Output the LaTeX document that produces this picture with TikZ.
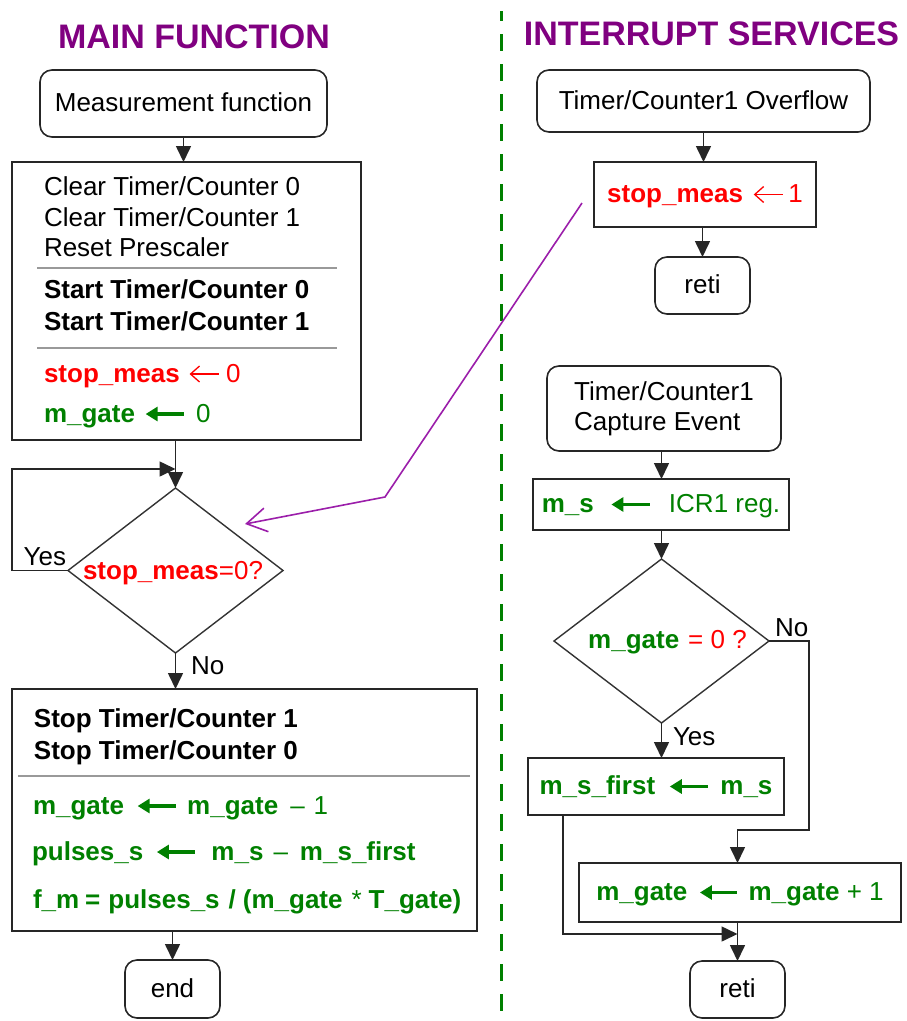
\documentclass[tikz,border=0pt]{standalone}
\usepackage{fontspec}
\setmainfont{Liberation Sans}
\usetikzlibrary{arrows.meta,shapes.geometric}
\definecolor{ogreen}{RGB}{0,128,0}
\definecolor{ored}{RGB}{255,0,0}
\definecolor{tpurple}{RGB}{128,0,128}
\definecolor{lpurple}{RGB}{155,30,170}
\newcommand{\nf}{\fontsize{26pt}{30pt}\selectfont}
\newcommand{\garr}[1][38pt]{\tikz[baseline=-8pt]\draw[ogreen,line width=3.2pt,{Triangle[length=12pt,width=14pt]}-] (0pt,0pt) -- (#1,0pt);}
\newcommand{\rarr}{\tikz[baseline=-8pt]\draw[ored,line width=1.3pt,{Straight Barb[length=9pt,width=16pt]}-] (0pt,0pt) -- (29pt,0pt);}
\begin{document}
\begin{tikzpicture}[x=1pt,y=-1pt,
  every node/.style={font=\nf, inner sep=0pt, outer sep=0pt},
  frame/.style={draw=black!85, line width=1.6pt, rectangle, align=center},
  oneline/.style={text height=18pt, text depth=2pt},
  term/.style={frame, rounded corners=12pt},
  dia/.style={draw=black!80, line width=1.4pt, diamond},
  txt/.style={anchor=base west},
  sepline/.style={draw=black!40, line width=1.2pt},
  conn/.style={draw=black!85, line width=1.6pt},
  arr/.style={conn, -{Triangle[length=16pt,width=15pt]}},
  title/.style={font=\fontsize{34pt}{40pt}\selectfont\bfseries, text=tpurple, anchor=base},
  lbl/.style={anchor=base west}
]
\useasboundingbox (0,0) rectangle (906,1021);

% titles
\node[title] (t1) at (194,48) {MAIN FUNCTION};
\node[title] (t2) at (711.5,45) {INTERRUPT SERVICES};

% divider
\coordinate (divTop) at (501,11);
\coordinate (divBot) at (501,1021);
\draw[ogreen, line width=3pt, dash pattern=on 17pt off 13pt, dash phase=7pt] (divTop) -- (divBot);

% ===== main function =====
\node[term, oneline, minimum width=287, minimum height=67] (meas) at (183.5,103.5) {Measurement function};
\node[frame, minimum width=349, minimum height=278] (box1) at (186.5,301) {};
\node[txt] (c0) at (44,195) {Clear Timer/Counter 0};
\node[txt] (c1) at (44,226) {Clear Timer/Counter 1};
\node[txt] (rp) at (44,256) {Reset Prescaler};
\coordinate (s1a) at (37,268); \coordinate (s1b) at (337,268);
\draw[sepline] (s1a) -- (s1b);
\node[txt, font=\nf\bfseries] (st0) at (44,298) {Start Timer/Counter 0};
\node[txt, font=\nf\bfseries] (st1) at (44,330) {Start Timer/Counter 1};
\coordinate (s2a) at (37,348); \coordinate (s2b) at (337,348);
\draw[sepline] (s2a) -- (s2b);
\node[txt, text=ored] (sm0) at (44,382) {\textbf{stop\_meas}\hspace{9pt}\rarr\hspace{7pt}0};
\node[txt, text=ogreen] (mg0) at (44,422) {\textbf{m\_gate}\hspace{9pt}\garr\hspace{11pt}0};

\node[dia, minimum width=215, minimum height=165] (d1) at (175.5,570.5) {};
\node[anchor=base, text=ored] (d1t) at (173,579) {\textbf{stop\_meas}=0?};

\node[frame, minimum width=465, minimum height=242] (box2) at (244.5,810) {};
\node[txt, font=\nf\bfseries] (sp1) at (34,727) {Stop Timer/Counter 1};
\node[txt, font=\nf\bfseries] (sp0) at (34,759) {Stop Timer/Counter 0};
\coordinate (s3a) at (18,776); \coordinate (s3b) at (470,776);
\draw[sepline] (s3a) -- (s3b);
\node[txt, text=ogreen] (l1) at (33,814) {\textbf{m\_gate}\hspace{12pt}\garr\hspace{10pt}\textbf{m\_gate}\hspace{12pt}\textendash\hspace{9pt}1};
\node[txt, text=ogreen] (l2) at (32,860) {\textbf{pulses\_s}\hspace{12pt}\garr\hspace{15pt}\textbf{m\_s}\hspace{10pt}\textendash\hspace{12pt}\textbf{m\_s\_first}};
\node[txt, text=ogreen, font=\nf\bfseries] (l3) at (33,908) {f\_m\hspace{6pt}=\hspace{8pt}pulses\_s\hspace{9pt}/\hspace{7pt}(m\_gate\hspace{9pt}{\mdseries *}\hspace{7pt}T\_gate)};

\node[term, oneline, minimum width=95, minimum height=58] (endn) at (172.5,989) {end};

\draw[arr] (meas.south) -- (meas.south |- box1.north);
\draw[arr] (d1.north |- box1.south) -- (d1.north);
\coordinate (j1) at (175.5,469);
\draw[arr] (d1.west) -- (d1.west -| box1.west) |- (j1);
\node[anchor=base east] (yes1) at (66,565) {Yes};
\draw[arr] (d1.south) -- (d1.south |- box2.north);
\node[lbl] (no1) at (191,674) {No};
\draw[arr] (endn.north |- box2.south) -- (endn.north);

% ===== interrupt services =====
\node[term, oneline, minimum width=333, minimum height=62] (ovf) at (703.5,101) {Timer/Counter1 Overflow};
\node[frame, oneline, minimum width=222, minimum height=65, text=ored] (sm1) at (705,194.5) {\textbf{stop\_meas}\hspace{10pt}\rarr\hspace{5pt}1};
\node[term, oneline, minimum width=95, minimum height=57] (reti1) at (702.5,285.5) {reti};
\draw[arr] (ovf.south) -- (ovf.south |- sm1.north);
\draw[arr] (reti1.north |- sm1.south) -- (reti1.north);

\node[term, align=left, minimum width=234, minimum height=85] (cap) at (664,408.5) {Timer/Counter1\\Capture Event};
\node[frame, oneline, minimum width=256, minimum height=51, text=ogreen] (ms) at (661,504.5) {\textbf{m\_s}\hspace{16pt}\garr[39pt]\hspace{17pt}ICR1 reg.};
\node[dia, minimum width=215, minimum height=164] (d2) at (661.5,641) {};
\node[anchor=base] (d2t) at (667.5,648) {\textcolor{ogreen}{\textbf{m\_gate}}\hspace{9pt}\textcolor{ored}{= 0 ?}};
\node[frame, oneline, minimum width=256, minimum height=57, text=ogreen] (msf) at (656,786.5) {\textbf{m\_s\_first}\hspace{13pt}\garr\hspace{11pt}\textbf{m\_s}};
\node[frame, oneline, minimum width=322, minimum height=59, text=ogreen] (mg1) at (740,892.5) {\textbf{m\_gate}\hspace{11pt}\garr[37pt]\hspace{10pt}\textbf{m\_gate} + 1};
\node[term, oneline, minimum width=95, minimum height=57] (reti2) at (737.5,989.5) {reti};

\draw[arr] (cap.south -| d2.north) -- (ms.north -| d2.north);
\draw[arr] (ms.south -| d2.north) -- (d2.north);
\draw[arr] (d2.south) -- (d2.south |- msf.north);
\node[lbl] (yes2) at (673,745) {Yes};
\coordinate (nojog) at (809,830);
\draw[arr] (d2.east) -| (nojog) -| (mg1.north -| reti2.north);
\node[lbl] (no2) at (775,636) {No};
\coordinate (j2) at (737.5,934);
\draw[arr] ([xshift=35pt]msf.south west) |- (j2);
\draw[arr] (mg1.south -| reti2.north) -- (reti2.north);

% purple link
\coordinate (p0) at (582,203);
\coordinate (p1) at (385,497);
\coordinate (p2) at (245,524);
\draw[lpurple, line width=1.6pt, -{Straight Barb[length=20pt,width=24pt]}] (p0) -- (p1) -- (p2);
\end{tikzpicture}
\end{document}
